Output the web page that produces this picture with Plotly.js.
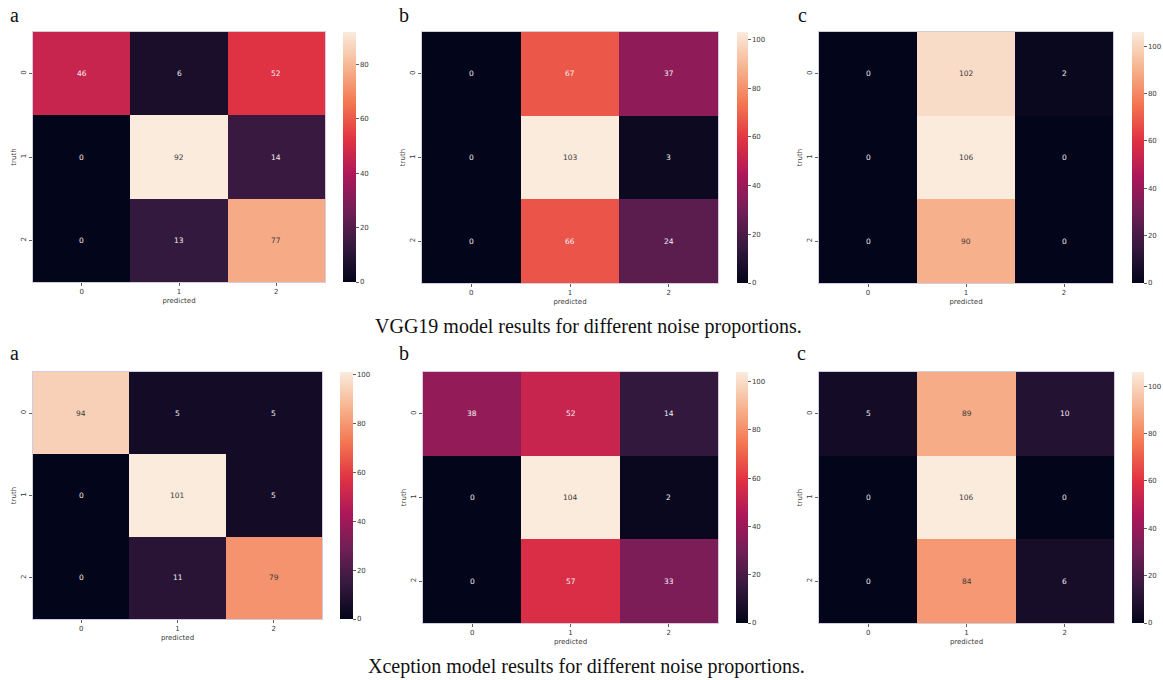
<!DOCTYPE html>
<html>
<head>
<meta charset="utf-8">
<script src="https://cdn.plot.ly/plotly-3.0.1.min.js"></script>
<style>html,body{margin:0;padding:0;background:#fff;}#chart{width:1163px;height:680px;}</style>
</head>
<body>
<div id="chart"></div>
<script>
// ---- data ----
const classLabels = [0, 1, 2];
const vggA = [[46, 6, 52], [0, 92, 14], [0, 13, 77]];
const vggB = [[0, 67, 37], [0, 103, 3], [0, 66, 24]];
const vggC = [[0, 102, 2], [0, 106, 0], [0, 90, 0]];
const xcpA = [[94, 5, 5], [0, 101, 5], [0, 11, 79]];
const xcpB = [[38, 52, 14], [0, 104, 2], [0, 57, 33]];
const xcpC = [[5, 89, 10], [0, 106, 0], [0, 84, 6]];
const panelLetters = ['a', 'b', 'c'];
const captionTop = 'VGG19 model results for different noise proportions.';
const captionBottom = 'Xception model results for different noise proportions.';
const xTitle = 'predicted';
const yTitle = 'truth';

// ---- style ----
const W = 1163, H = 680;
const rocketStops = [
  [0.0, [3, 5, 26]],
  [1/7, [53, 25, 62]],
  [2/7, [112, 31, 87]],
  [3/7, [173, 23, 89]],
  [4/7, [225, 51, 66]],
  [5/7, [243, 118, 81]],
  [6/7, [246, 180, 143]],
  [1.0, [250, 235, 221]]
];
const rocket = rocketStops.map(s => [s[0], 'rgb(' + s[1].join(',') + ')']);

function rocketAt(t) {
  for (let i = 1; i < rocketStops.length; i++) {
    if (t <= rocketStops[i][0]) {
      const a = rocketStops[i-1], b = rocketStops[i];
      const f = (t - a[0]) / (b[0] - a[0]);
      return a[1].map((c, k) => c + f * (b[1][k] - c));
    }
  }
  return rocketStops[rocketStops.length-1][1];
}
function lum(rgb) {
  const l = rgb.map(c => { c /= 255; return c <= 0.03928 ? c / 12.92 : Math.pow((c + 0.055) / 1.055, 2.4); });
  return 0.2126 * l[0] + 0.7152 * l[1] + 0.0722 * l[2];
}

// pixel layout
const layoutPx = [
  {z: vggA, xd: [33, 325], yd: [32, 282], cb: [343, 356], lx: 8,   ly: 15},
  {z: vggB, xd: [422, 718], yd: [32, 283], cb: [737, 748], lx: 397, ly: 15},
  {z: vggC, xd: [819, 1113], yd: [32, 283], cb: [1132, 1144], lx: 796, ly: 15},
  {z: xcpA, xd: [33, 322], yd: [372, 619], cb: [340, 353], lx: 8,   ly: 353},
  {z: xcpB, xd: [423, 718], yd: [372, 623], cb: [736, 748], lx: 397, ly: 353},
  {z: xcpC, xd: [819, 1114], yd: [372, 623], cb: [1132, 1144], lx: 795, ly: 353}
];

const tickFont = {family: 'DejaVu Sans', size: 7, color: '#3a3a3a'};
const traces = [];
const annotations = [];
const layout = {
  width: W, height: H,
  margin: {l: 0, r: 0, t: 0, b: 0},
  paper_bgcolor: '#ffffff', plot_bgcolor: '#ffffff',
  showlegend: false,
  font: {family: 'DejaVu Sans'}
};

layoutPx.forEach((p, idx) => {
  const n = idx + 1;
  const xa = 'xaxis' + (n === 1 ? '' : n), ya = 'yaxis' + (n === 1 ? '' : n);
  const xr = 'x' + (n === 1 ? '' : n), yr = 'y' + (n === 1 ? '' : n);
  const zmax = Math.max(...p.z.flat());
  traces.push({
    type: 'heatmap', z: p.z, x: classLabels, y: classLabels,
    xaxis: xr, yaxis: yr,
    zmin: 0, zmax: zmax, colorscale: rocket,
    hoverinfo: 'skip',
    colorbar: {
      x: p.cb[0] / W, xanchor: 'left', xref: 'paper',
      y: 1 - (p.yd[0] + p.yd[1]) / 2 / H, yanchor: 'middle', yref: 'paper',
      len: p.yd[1] - p.yd[0], lenmode: 'pixels',
      thickness: p.cb[1] - p.cb[0], thicknessmode: 'pixels',
      outlinewidth: 0, xpad: 0, ypad: 0,
      tick0: 0, dtick: 20, ticks: 'outside', ticklen: 3, tickwidth: 0.8, tickcolor: '#3a3a3a',
      tickfont: tickFont
    }
  });
  layout[xa] = {
    domain: [p.xd[0] / W, p.xd[1] / W], anchor: yr,
    range: [-0.5, 2.5], tickvals: classLabels, ticktext: classLabels.map(String),
    ticks: 'outside', ticklen: 3, tickwidth: 0.8, tickcolor: '#3a3a3a',
    tickfont: tickFont, showgrid: false, zeroline: false,
    showline: true, mirror: true, linecolor: 'rgba(205,198,218,0.9)', linewidth: 1,
    title: {text: xTitle, font: {family: 'DejaVu Sans', size: 7, color: '#3a3a3a'}, standoff: 2},
    fixedrange: true
  };
  layout[ya] = {
    domain: [1 - p.yd[1] / H, 1 - p.yd[0] / H], anchor: xr,
    range: [2.5, -0.5], tickvals: classLabels, ticktext: classLabels.map(String),
    ticks: 'outside', ticklen: 3, tickwidth: 0.8, tickcolor: '#3a3a3a',
    tickangle: -90,
    tickfont: tickFont, showgrid: false, zeroline: false,
    showline: true, mirror: true, linecolor: 'rgba(205,198,218,0.9)', linewidth: 1,
    title: {text: yTitle, font: {family: 'DejaVu Sans', size: 7, color: '#3a3a3a'}, standoff: 2},
    fixedrange: true
  };
  p.z.forEach((row, i) => row.forEach((v, j) => {
    const L = lum(rocketAt(v / zmax));
    annotations.push({
      xref: xr, yref: yr, x: classLabels[j], y: classLabels[i],
      text: String(v), showarrow: false,
      font: {family: 'DejaVu Sans', size: 7.5, color: L > 0.408 ? '#3a3a3a' : '#f4f0f4'}
    });
  }));
  annotations.push({
    xref: 'paper', yref: 'paper', x: p.lx / W, y: 1 - p.ly / H,
    xanchor: 'left', yanchor: 'middle', showarrow: false,
    text: panelLetters[idx % 3],
    font: {family: 'Liberation Serif', size: 20, color: '#111'}
  });
});

annotations.push({
  xref: 'paper', yref: 'paper', x: 588 / W, y: 1 - 326 / H,
  xanchor: 'center', yanchor: 'middle', showarrow: false,
  text: captionTop, font: {family: 'Liberation Serif', size: 20, color: '#111'}
});
annotations.push({
  xref: 'paper', yref: 'paper', x: 586 / W, y: 1 - 666 / H,
  xanchor: 'center', yanchor: 'middle', showarrow: false,
  text: captionBottom, font: {family: 'Liberation Serif', size: 20, color: '#111'}
});
layout.annotations = annotations;

Plotly.newPlot('chart', traces, layout, {displayModeBar: false, staticPlot: true});
</script>
</body>
</html>
